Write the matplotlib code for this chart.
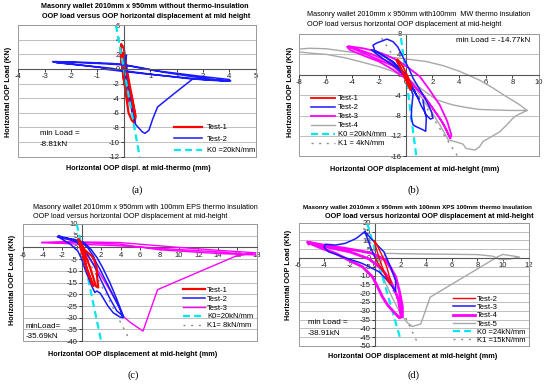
import matplotlib
matplotlib.use("Agg")
import matplotlib.pyplot as plt
from matplotlib.patches import Rectangle

plt.rcParams['font.family'] = ['Liberation Sans', 'DejaVu Sans']
plt.rcParams['lines.scale_dashes'] = False

# ---------------- data: panel (a) ----------------
a_t1_x = [0.0, 0.15, 0.3, 0.42, 0.35, 0.15, 0.0, -0.08, -0.12, -0.1, 0.0, 0.1, 0.2, 0.33, 0.45, 0.4, 0.3, 0.18, 0.08, -0.02, -0.12, -0.05, 0.05, 0.2, 0.35, 0.42]
a_t1_y = [0.0, -2.0, -4.0, -6.2, -6.0, -3.8, -1.5, 0.8, 2.5, 3.4, 2.8, 0.3, -1.8, -4.2, -6.5, -7.4, -7.0, -6.0, -3.5, -0.8, 1.8, 2.2, 0.3, -3.0, -6.2, -7.3]
a_t2_x = [0.0, 0.1, 0.05, -0.5, -1.5, -2.6, -2.55, -1.5, -0.9, -0.7, 0.0, 1.0, 2.0, 3.0, 4.05, 4.0, 3.0, 2.0, 1.2, 0.5, 0.0, -1.0, -2.0, -2.7, -2.6, -1.2, -0.5, 0.1, 1.2, 2.5, 3.5, 4.0, 3.5, 2.5, 1.5, 0.6, 0.12, 0.05, 0.15, 0.25, 0.35, 0.45, 0.55, 0.7, 0.8, 0.95, 1.1, 1.28, 1.9, 2.57]
a_t2_y = [0.0, 1.9, 0.6, 0.75, 0.9, 1.0, 0.85, 0.45, 0.2, -0.05, -0.35, -0.75, -1.1, -1.45, -1.65, -1.45, -1.05, -0.6, -0.25, 0.2, 0.55, 0.75, 0.9, 1.0, 0.9, 0.35, 0.1, -0.3, -0.8, -1.35, -1.6, -1.7, -1.5, -1.0, -0.45, 0.2, 0.5, -0.5, -2.5, -4.5, -6.3, -7.6, -8.0, -8.6, -8.81, -8.4, -6.8, -5.2, -3.4, -1.5]
a_k0_x = [-0.3, 0.6]
a_k0_y = [6.0, -12.0]

# ---------------- data: panel (b) ----------------
b_t1_x = [0.0, 0.2, 0.42, 0.3, 0.0, -0.4, -0.7, -0.6, -0.2, 0.15, 0.45, 0.35, 0.0, -0.35, -0.65]
b_t1_y = [0.0, -1.2, -2.5, -2.2, -0.6, 1.5, 2.9, 3.0, 1.6, -0.3, -2.2, -3.0, -1.0, 1.2, 2.7]
b_t2_x = [0.0, 0.3, 0.6, 1.0, 0.8, 0.3, -0.3, -1.0, -1.8, -2.3, -2.45, -2.2, -1.8, -1.4, -0.95, -0.6, -0.15, 0.3, 0.55, 0.9, 1.3, 1.65, 1.93, 2.05, 1.85, 1.55, 1.15, 0.8, 0.4, 0.05, -0.5, -0.95, -1.6, -2.2, -2.57, -2.3, -1.5, -0.6, 0.1, 0.55, 0.45, 0.42, 0.55, 0.8, 1.05, 1.3, 1.5, 1.55, 1.43, 1.3]
b_t2_y = [0.0, -1.5, -3.0, -4.8, -4.0, -1.8, 0.8, 2.5, 4.0, 4.6, 5.8, 6.2, 6.6, 7.0, 6.5, 5.5, 3.2, 0.9, -0.65, -2.2, -3.9, -5.6, -7.2, -8.5, -8.7, -7.9, -6.0, -3.9, -1.8, 0.0, 1.5, 2.6, 3.6, 4.6, 4.9, 4.3, 2.8, 1.2, -0.8, -3.9, -6.5, -8.5, -9.8, -10.2, -10.5, -10.8, -11.1, -8.5, -7.2, -5.0]
b_t3_x = [0.0, -1.0, -2.5, -3.6, -4.4, -4.2, -3.0, -2.0, -0.95, 0.3, 1.4, 2.55, 3.0, 3.35, 3.43, 3.1, 2.55, 1.8, 1.05, 0.3, -0.45, -1.4, -2.2, -3.2, -4.3, -4.0, -2.5, -1.0, 0.2, 1.2, 2.0, 2.8, 3.3]
b_t3_y = [0.0, 2.2, 4.0, 5.0, 5.5, 4.9, 3.6, 2.6, 1.0, -1.3, -4.2, -8.5, -10.5, -12.5, -11.8, -9.0, -5.9, -3.0, -0.3, 1.2, 2.6, 3.8, 4.6, 5.2, 5.6, 5.2, 3.5, 1.8, -0.8, -3.8, -6.5, -9.5, -12.3]
b_t4_x = [0.0, 0.6, 1.2, 2.0, 2.6, 3.2, 3.8, 4.3, 4.5, 4.8, 5.2, 5.55, 5.8, 6.4, 7.05, 7.6, 8.05, 8.3, 8.7, 9.1, 8.5, 7.5, 6.55, 5.5, 4.05, 2.8, 1.55, 0.0, -0.95, -2.5, -4.0, -5.95, -7.2, -8.2, -8.1, -7.0, -5.95, -4.5, -3.45, -2.0, -0.95, 0.3, 1.3, 2.3, 3.5, 4.5, 5.5, 6.55, 7.8, 9.1]
b_t4_y = [0.0, -2.2, -4.5, -7.5, -10.0, -12.8, -13.2, -13.6, -14.4, -14.6, -14.77, -14.1, -13.1, -12.2, -11.2, -9.8, -8.5, -8.0, -7.5, -7.0, -5.8, -4.2, -2.6, -1.0, 0.66, 1.8, 2.6, 3.1, 3.4, 3.9, 4.4, 5.1, 5.2, 5.0, 4.5, 4.2, 4.0, 3.3, 2.6, 1.6, 0.66, -1.0, -3.0, -4.9, -5.9, -6.4, -6.8, -6.9, -7.0, -7.0]
b_k0_x = [-0.35, 0.8]
b_k0_y = [7.2, -16.0]
b_k1_x = [-1.8, 3.9]
b_k1_y = [7.2, -16.0]

# ---------------- data: panel (c) ----------------
c_t1_x = [0.0, 0.3, 0.51, 0.9, 1.2, 1.05, 0.7, 0.3, -0.1, -0.35, -0.2, 0.3, 0.7, 1.03, 1.3, 1.54, 1.6, 1.7, 1.45, 1.2, 0.9, 0.5, 0.1, -0.3]
c_t1_y = [0.0, -4.5, -9.3, -13.0, -16.4, -15.5, -11.0, -6.0, -0.5, 3.6, 2.8, -1.0, -2.5, -3.6, -5.5, -8.6, -13.0, -17.1, -16.5, -13.0, -9.0, -4.5, 0.0, 3.0]
c_t2_x = [0.0, -0.5, -1.2, -2.4, -2.2, -1.0, 0.0, 0.6, 1.19, 1.5, 1.88, 2.3, 2.74, 3.3, 3.94, 4.25, 3.9, 3.25, 2.7, 2.2, 1.9, 1.55, 1.35, 1.03, 0.7, 0.34, 0.0, -0.4, -1.2, -2.3, -2.5, -2.0, -0.8, 0.3, 1.0, 1.6, 2.2, 2.9, 3.6, 4.3, 3.6, 2.8, 2.0, 1.3, 0.6, 0.0]
c_t2_y = [0.0, 2.2, 3.6, 5.0, 4.2, 3.0, 2.0, 0.0, -3.6, -6.5, -9.3, -12.8, -16.4, -21.0, -26.4, -30.0, -29.6, -27.9, -25.0, -21.5, -19.5, -18.6, -19.2, -16.4, -13.0, -9.3, -5.0, -1.5, 1.5, 4.2, 4.6, 4.2, 3.5, 2.0, -1.0, -4.5, -9.0, -15.0, -22.0, -29.5, -27.0, -21.0, -14.0, -8.0, -3.0, 0.0]
c_t3_x = [0.0, 0.5, 1.2, 2.0, 3.0, 3.8, 4.3, 5.0, 6.3, 7.8, 15.9, 17.9, 14.0, 10.0, 3.9, -1.0, -4.1, -1.0, 3.9, 10.0, 14.0, 17.9, 14.0, 8.0, 3.9, -1.0, -4.1]
c_t3_y = [0.0, -3.0, -7.0, -12.0, -19.0, -25.0, -29.5, -32.0, -35.69, -18.0, -3.6, -2.3, -1.2, 0.0, 2.1, 2.4, 2.2, 1.5, 0.7, -0.9, -1.9, -3.2, -2.6, -1.0, 1.4, 2.2, 2.0]
c_k0_x = [-0.5, 2.0]
c_k0_y = [10.0, -40.0]
c_k1_x = [-0.8, 4.8]
c_k1_y = [6.4, -38.4]

# ---------------- data: panel (d) ----------------
d_t2_x = [0.0, 0.3, 0.7, 1.0, 1.2, 1.0, 0.7, 0.4, 0.1, -0.1, 0.1, 0.5, 0.9, 1.25]
d_t2_y = [0.0, -4.0, -8.5, -12.0, -15.0, -13.0, -8.0, -2.0, 5.0, 10.0, 8.0, 2.0, -5.0, -14.0]
d_t3_x = [0.0, -0.3, -0.81, 0.03, 0.68, 1.2, 1.6, 1.6, 1.34, 0.8, 0.29, -1.02, -2.5, -3.64, -4.0, -3.9, -3.1, -2.33, -1.5, -0.81]
d_t3_y = [0.0, 5.0, 14.9, 8.3, 3.5, -5.0, -13.0, -19.0, -16.3, -11.5, -7.8, -3.1, 0.5, 3.5, 6.0, 7.8, 7.3, 8.3, 11.0, 14.9]
d_t4_x = [-5.2, -5.3, -4.0, -2.33, -1.2, -0.23, 0.81, 1.2, 1.6, 1.9, 2.13, 2.13, 1.9, 1.5, 1.0, 0.56, 0.1, -0.23, -1.0, -2.0, -3.1, -4.2, -5.2, -4.0, -2.0, -0.5, 0.5, 1.2, 1.8, 2.0]
d_t4_y = [8.0, 9.0, 7.2, 5.4, 4.0, 2.6, -1.2, -5.5, -10.6, -19.0, -27.7, -33.3, -34.0, -31.0, -27.0, -22.0, -15.0, -10.6, -5.0, -1.5, 2.6, 5.5, 8.6, 6.5, 3.5, -0.5, -6.0, -13.0, -23.0, -32.0]
d_t5_x = [0.0, 0.3, 0.8, 1.3, 1.8, 2.13, 2.52, 2.91, 3.57, 4.3, 9.6, 10.0, 11.3, 10.6, 9.8, 9.2, 8.0, 3.0, 0.8, 0.6, 0.4]
d_t5_y = [0.0, -6.0, -14.0, -22.0, -29.0, -33.3, -36.8, -38.91, -37.5, -22.3, 0.7, 2.0, 0.5, -0.6, -0.9, 1.0, 1.9, 2.3, 2.6, 0.0, -3.0]
d_k0_x = [-0.62, 2.0]
d_k0_y = [19.7, -46.7]
d_k1_x = [-0.9, 3.4]
d_k1_y = [17.0, -49.5]

RED = '#ff0000'
BLUE = '#1a1aff'
MAG = '#ff00ff'
GRAY = '#a8a8a8'
CYAN = '#00e8f0'

W, H = 550, 384
fig = plt.figure(figsize=(5.5, 3.84), dpi=100)


def fx(px):
    return px / W


def fy(py):
    return 1 - py / H


def make_ax(l, r, t, b, xlim, ylim, xstep, ystep):
    ax = fig.add_axes([fx(l), fy(b), fx(r) - fx(l), fy(t) - fy(b)])
    ax.set_xlim(*xlim)
    ax.set_ylim(*ylim)
    xt = [xlim[0] + i * xstep for i in range(int(round((xlim[1] - xlim[0]) / xstep)) + 1)]
    yt = [ylim[0] + i * ystep for i in range(int(round((ylim[1] - ylim[0]) / ystep)) + 1)]
    ax.set_xticks(xt)
    ax.set_yticks(yt)
    ax.set_xticklabels([f"{v:g}" for v in xt])
    ax.set_yticklabels([f"{v:g}" for v in yt])
    ax.spines['left'].set_position(('data', 0))
    ax.spines['bottom'].set_position(('data', 0))
    for s in ['left', 'bottom']:
        ax.spines[s].set_color('#555555')
        ax.spines[s].set_linewidth(0.8)
    for s in ['top', 'right']:
        ax.spines[s].set_color('#9a9a9a')
        ax.spines[s].set_linewidth(0.7)
    ax.add_patch(Rectangle((0, 0), 1, 1, transform=ax.transAxes, fill=False,
                           ec='#9a9a9a', lw=0.7, clip_on=False, zorder=0))
    ax.tick_params(labelsize=5.5, length=2, width=0.6, pad=1, colors='#222222')
    ax.yaxis.grid(True, color='#b4b4b4', lw=0.6)
    ax.set_axisbelow(True)
    return ax


def legend(ax, left_px, top_px, hl, htp, ls):
    ax.legend(loc='upper left', bbox_to_anchor=(fx(left_px), fy(top_px)),
              bbox_transform=fig.transFigure, frameon=False, borderpad=0,
              borderaxespad=0, handlelength=hl, handletextpad=htp,
              labelspacing=ls, fontsize=5.5)


K0_STYLE = dict(color=CYAN, lw=1.6, dashes=(5, 3))
K1_STYLE = dict(color='#8a8a8a', lw=1.0, dashes=(1.5, 4))

# ---- panel (a)
ax = make_ax(18.3, 255.7, 25, 156.7, (-4, 5), (-12, 6), 1, 2)
ax.plot(a_t1_x, a_t1_y, color=RED, lw=1.6, label='Test-1')
ax.plot(a_t2_x, a_t2_y, color=BLUE, lw=1.1, label='Test-2')
ax.plot(a_k0_x, a_k0_y, label='K0 =20kN/mm', **K0_STYLE)
legend(ax, 174, 124, 3.7, 0.6, 0.55)

# ---- panel (b)
ax = make_ax(299, 539, 34, 156.3, (-8, 10), (-16, 8), 2, 4)
ax.plot(b_t1_x, b_t1_y, color=RED, lw=1.3, label='Test-1', zorder=5)
ax.plot(b_t2_x, b_t2_y, color=BLUE, lw=1.1, label='Test-2', zorder=4)
ax.plot(b_t3_x, b_t3_y, color=MAG, lw=1.3, label='Test-3', zorder=3)
ax.plot(b_t4_x, b_t4_y, color=GRAY, lw=1.0, label='Test-4', zorder=2)
ax.plot(b_k0_x, b_k0_y, label='K0 =20kN/mm', **K0_STYLE)
ax.plot(b_k1_x, b_k1_y, label='K1 = 4kN/mm', **K1_STYLE)
legend(ax, 311, 95, 3.1, 0.4, 0.22)

# ---- panel (c)
ax = make_ax(23.3, 256.8, 224, 341.2, (-6, 18), (-40, 10), 2, 5)
ax.plot(c_t1_x, c_t1_y, color=RED, lw=1.6, label='Test-1', zorder=5)
ax.plot(c_t2_x, c_t2_y, color=BLUE, lw=1.1, label='Test-2', zorder=4)
ax.plot(c_t3_x, c_t3_y, color=MAG, lw=1.0, label='Test-3', zorder=3)
ax.plot(c_k0_x, c_k0_y, label='K0=20kN/mm', **K0_STYLE)
ax.plot(c_k1_x, c_k1_y, label='K1= 8kN/mm', **K1_STYLE)
legend(ax, 183.3, 286.5, 2.85, 0.25, 0.2)

# ---- panel (d)
ax = make_ax(298.5, 528.5, 222.7, 346, (-6, 12), (-50, 20), 2, 5)
ax.plot(d_t2_x, d_t2_y, color=RED, lw=1.0, label='Test-2', zorder=5)
ax.plot(d_t3_x, d_t3_y, color=BLUE, lw=1.1, label='Test-3', zorder=4)
ax.plot(d_t4_x, d_t4_y, color=MAG, lw=2.0, label='Test-4', zorder=3)
ax.plot(d_t5_x, d_t5_y, color=GRAY, lw=1.0, label='Test-5', zorder=2)
ax.plot(d_k0_x, d_k0_y, label='K0 =24kN/mm', **K0_STYLE)
ax.plot(d_k1_x, d_k1_y, label='K1 =15kN/mm', **K1_STYLE)
legend(ax, 452.7, 295.5, 2.9, 0.25, 0.12)

# ---- texts
TS = 5.2
fig.text(fx(145), fy(6), 'Masonry wallet 2010mm x 950mm without thermo-insulation',
         ha='center', va='center', fontsize=TS, fontweight='bold')
fig.text(fx(146), fy(16), 'OOP load versus OOP horizontal displacement at mid height',
         ha='center', va='center', fontsize=TS, fontweight='bold')
fig.text(fx(306.7), fy(15), 'Masonry wallet 2010mm x 950mm with100mm  MW thermo insulation',
         ha='left', va='center', fontsize=TS)
fig.text(fx(306.7), fy(24), 'OOP load versus horizontal OOP displacement at mid-height',
         ha='left', va='center', fontsize=TS)
fig.text(fx(33), fy(207.7), 'Masonry wallet 2010mm x 950mm with 100mm EPS thermo insulation',
         ha='left', va='center', fontsize=TS)
fig.text(fx(33), fy(216.3), 'OOP load versus horizontal OOP displacement at mid-height',
         ha='left', va='center', fontsize=TS)
fig.text(fx(303), fy(207), 'Masonry wallet 2010mm x 950mm with 100mm XPS 100mm thermo insulation',
         ha='left', va='center', fontsize=4.5, fontweight='bold')
fig.text(fx(429), fy(216), 'OOP load versus horizontal OOP displacement at mid-height',
         ha='center', va='center', fontsize=TS, fontweight='bold')

LS = 5.2
for (x, y) in [(9, 92), (290, 92), (13, 280), (288, 275)]:
    fig.text(fx(x), fy(y), 'Horizontal OOP Load (KN)', rotation=90,
             ha='center', va='center', fontsize=LS, fontweight='bold')
fig.text(fx(138), fy(168), 'Horizontal OOP displ. at mid-thermo (mm)',
         ha='center', va='center', fontsize=LS, fontweight='bold')
for (x, y) in [(415, 170), (133, 355), (413, 357)]:
    fig.text(fx(x), fy(y), 'Horizontal OOP displacement at mid-height (mm)',
             ha='center', va='center', fontsize=LS, fontweight='bold')

MS = 5.8
fig.text(fx(40), fy(133), 'min Load =', ha='left', va='center', fontsize=MS)
fig.text(fx(40), fy(144), '-8.81kN', ha='left', va='center', fontsize=MS)
fig.text(fx(530), fy(40.7), 'min Load = -14.77kN', ha='right', va='center', fontsize=MS)
fig.text(fx(26), fy(326), 'minLoad=', ha='left', va='center', fontsize=MS)
fig.text(fx(26), fy(337), '-35.69kN', ha='left', va='center', fontsize=MS)
fig.text(fx(308), fy(322.7), 'min Load =', ha='left', va='center', fontsize=MS)
fig.text(fx(308), fy(333.3), '-38.91kN', ha='left', va='center', fontsize=MS)

for (x, y, s) in [(137, 190, '(a)'), (413, 190, '(b)'), (133, 375, '(c)'), (413, 375, '(d)')]:
    fig.text(fx(x), fy(y), s, ha='center', va='center', fontsize=7.5,
             family=['Liberation Serif', 'DejaVu Serif'])

fig.savefig('out.png', dpi=100)
